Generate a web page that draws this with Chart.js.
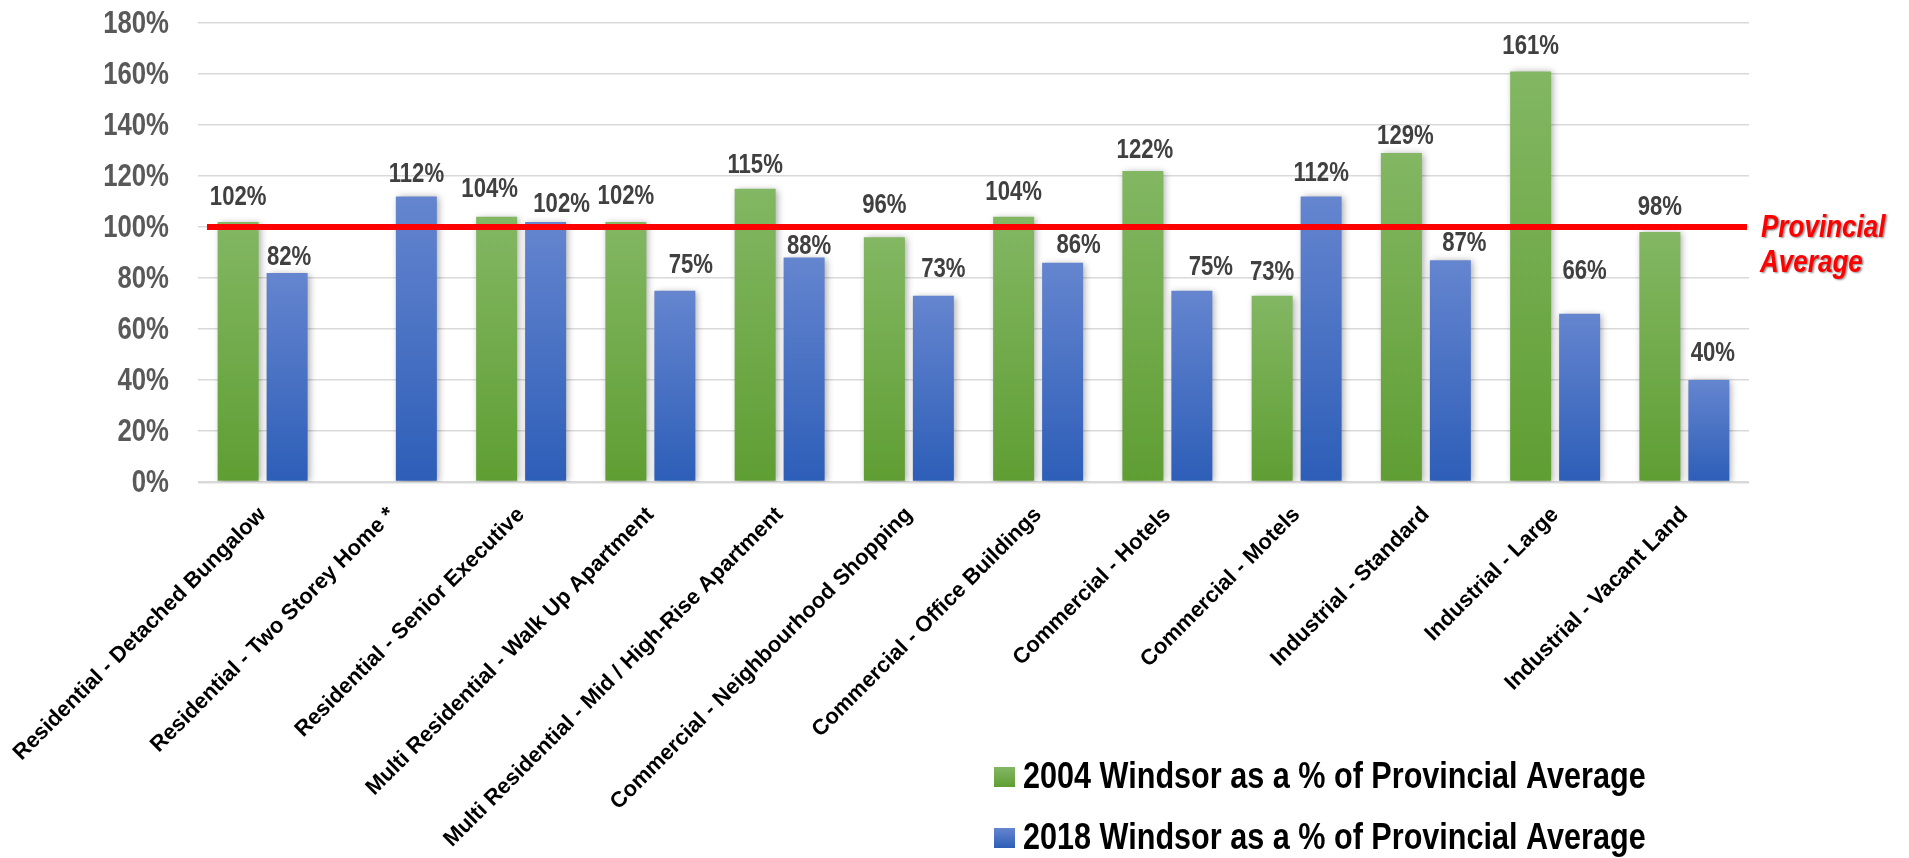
<!DOCTYPE html>
<html>
<head>
<meta charset="utf-8">
<script src="https://cdn.jsdelivr.net/npm/chart.js@4.4.1/dist/chart.umd.min.js"></script>
<style>
  html, body { margin: 0; padding: 0; background: #ffffff; overflow: hidden; }
  #wrap { width: 1909px; height: 858px; position: relative; }
</style>
</head>
<body>
<div id="wrap"><canvas id="c" width="1909" height="858"></canvas></div>
<script>
// Property classes compared against the provincial average
const categories = [
  'Residential - Detached Bungalow',
  'Residential - Two Storey Home *',
  'Residential - Senior Executive',
  'Multi Residential - Walk Up Apartment',
  'Multi Residential - Mid / High-Rise Apartment',
  'Commercial - Neighbourhood Shopping',
  'Commercial - Office Buildings',
  'Commercial - Hotels',
  'Commercial - Motels',
  'Industrial - Standard',
  'Industrial - Large',
  'Industrial - Vacant Land'
];

// Windsor as a percentage of the provincial average
const windsor2004 = [102, null, 104, 102, 115, 96, 104, 122, 73, 129, 161, 98];
const windsor2018 = [82, 112, 102, 75, 88, 73, 86, 75, 112, 87, 66, 40];

const seriesNames = [
  '2004 Windsor as a % of Provincial Average',
  '2018 Windsor as a % of Provincial Average'
];

const yTicks = [0, 20, 40, 60, 80, 100, 120, 140, 160, 180];

const provincialAverage = 100;
const averageCaption = ['Provincial', 'Average'];

// ---- styling ----
const SANS = "'Liberation Sans', Arial, sans-serif";
const GREEN = ['#83b763', '#5f9e33'];
const BLUE = ['#6585cf', '#2d5eb8'];

// value label placement: [dx, lift above bar top] in px
const labelNudge = [
  [[0,25],[0,0],[-7,28],[0,26],[0,24],[0,33],[0,25],[2,21],[0,24],[4,18],[0,26],[0,26]],
  [[2,16],[0,23],[16,18],[16,26],[5,12],[10,27],[16,18],[19,24],[0,24],[14,18],[5,43],[4,27]]
];

// condensed text: a bold sans squeezed horizontally
function narrowText(c, text, x, y, align, sx) {
  c.save();
  c.translate(x, y);
  c.scale(sx, 1);
  c.textAlign = align;
  c.fillText(text, 0, 0);
  c.restore();
}

function verticalFill(stops) {
  return (context) => {
    const chart = context.chart;
    const yScale = chart.scales && chart.scales.y;
    if (context.type !== 'data' || context.raw == null || !yScale) return stops[0];
    const top = yScale.getPixelForValue(context.raw);
    const base = yScale.getPixelForValue(0);
    if (!isFinite(top) || !isFinite(base) || top === base) return stops[0];
    const g = chart.ctx.createLinearGradient(0, top, 0, base);
    g.addColorStop(0, stops[0]);
    g.addColorStop(1, stops[1]);
    return g;
  };
}

const barShadow = {
  id: 'barShadow',
  beforeDatasetsDraw(chart) {
    const c = chart.ctx;
    c.save();
    c.shadowColor = 'rgba(0,0,0,0.35)';
    c.shadowBlur = 7;
    c.shadowOffsetX = 2;
    c.shadowOffsetY = 1;
  },
  afterDatasetsDraw(chart) {
    chart.ctx.restore();
  }
};

const yTickLabels = {
  id: 'yTickLabels',
  afterDraw(chart) {
    const c = chart.ctx;
    const ys = chart.scales.y;
    c.save();
    c.font = 'bold 31px ' + SANS;
    c.fillStyle = '#595959';
    c.textBaseline = 'middle';
    yTicks.forEach((v) => {
      narrowText(c, v + '%', ys.right - 29, ys.getPixelForValue(v) + 1, 'right', 0.83);
    });
    c.restore();
  }
};

const valueLabels = {
  id: 'valueLabels',
  afterDatasetsDraw(chart) {
    const c = chart.ctx;
    c.save();
    c.font = 'bold 27px ' + SANS;
    c.fillStyle = '#404040';
    c.textBaseline = 'middle';
    chart.data.datasets.forEach((ds, di) => {
      const meta = chart.getDatasetMeta(di);
      meta.data.forEach((bar, i) => {
        const v = ds.data[i];
        if (v == null) return;
        const n = labelNudge[di][i];
        narrowText(c, v + '%', bar.x + n[0], bar.y - n[1] + 1, 'center', 0.82);
      });
    });
    c.restore();
  }
};

const averageLine = {
  id: 'averageLine',
  afterDatasetsDraw(chart) {
    const c = chart.ctx;
    const area = chart.chartArea;
    const y = chart.scales.y.getPixelForValue(provincialAverage);
    c.save();
    c.strokeStyle = '#ff0000';
    c.lineWidth = 6;
    c.beginPath();
    c.moveTo(area.left + 9, y);
    c.lineTo(area.right - 2, y);
    c.stroke();

    c.font = 'italic bold 31px ' + SANS;
    c.fillStyle = '#ff0000';
    c.textBaseline = 'middle';
    c.shadowColor = 'rgba(0,0,0,0.45)';
    c.shadowBlur = 2;
    c.shadowOffsetX = 1.5;
    c.shadowOffsetY = 1.5;
    narrowText(c, averageCaption[0], area.right + 12, y + 1, 'left', 0.84);
    narrowText(c, averageCaption[1], area.right + 11, y + 36, 'left', 0.84);
    c.restore();
  }
};

const stackedLegend = {
  id: 'stackedLegend',
  afterDraw(chart) {
    const c = chart.ctx;
    const fills = [GREEN, BLUE];
    const rows = [777, 838];
    c.save();
    c.font = 'bold 36px ' + SANS;
    c.textBaseline = 'middle';
    chart.data.datasets.forEach((ds, i) => {
      const yc = rows[i];
      const g = c.createLinearGradient(0, yc - 10, 0, yc + 10);
      g.addColorStop(0, fills[i][0]);
      g.addColorStop(1, fills[i][1]);
      c.fillStyle = g;
      c.fillRect(994, yc - 10, 21, 20);
      c.fillStyle = '#000000';
      narrowText(c, ds.label, 1023, yc + 1, 'left', 0.85);
    });
    c.restore();
  }
};

new Chart(document.getElementById('c'), {
  type: 'bar',
  data: {
    labels: categories,
    datasets: [
      { label: seriesNames[0], data: windsor2004, backgroundColor: verticalFill(GREEN), borderWidth: 0 },
      { label: seriesNames[1], data: windsor2018, backgroundColor: verticalFill(BLUE), borderWidth: 0 }
    ]
  },
  options: {
    responsive: false,
    devicePixelRatio: 1,
    animation: false,
    categoryPercentage: 0.758,
    barPercentage: 0.837,
    layout: { padding: { top: 23, right: 160, left: 0, bottom: 0 } },
    plugins: {
      legend: { display: false },
      tooltip: { enabled: false }
    },
    scales: {
      y: {
        min: 0,
        max: 180,
        afterBuildTicks: (s) => { s.ticks = yTicks.map(v => ({ value: v })); },
        afterFit: (s) => { s.width = 198; },
        border: { display: false },
        grid: {
          color: '#d9d9d9',
          lineWidth: (ctx) => (ctx.tick && ctx.tick.value === 0 ? 2.5 : 1.5),
          drawTicks: false
        },
        ticks: { display: false }
      },
      x: {
        afterFit: (s) => { s.height = 376; s.paddingLeft = 0; s.paddingRight = 0; },
        border: { display: false },
        grid: { display: false, drawTicks: false },
        ticks: {
          autoSkip: false,
          maxRotation: 45,
          minRotation: 45,
          padding: 20,
          color: '#000000',
          font: { family: SANS, size: 22, weight: 'bold' }
        }
      }
    }
  },
  plugins: [barShadow, valueLabels, averageLine, yTickLabels, stackedLegend]
});
</script>
</body>
</html>
